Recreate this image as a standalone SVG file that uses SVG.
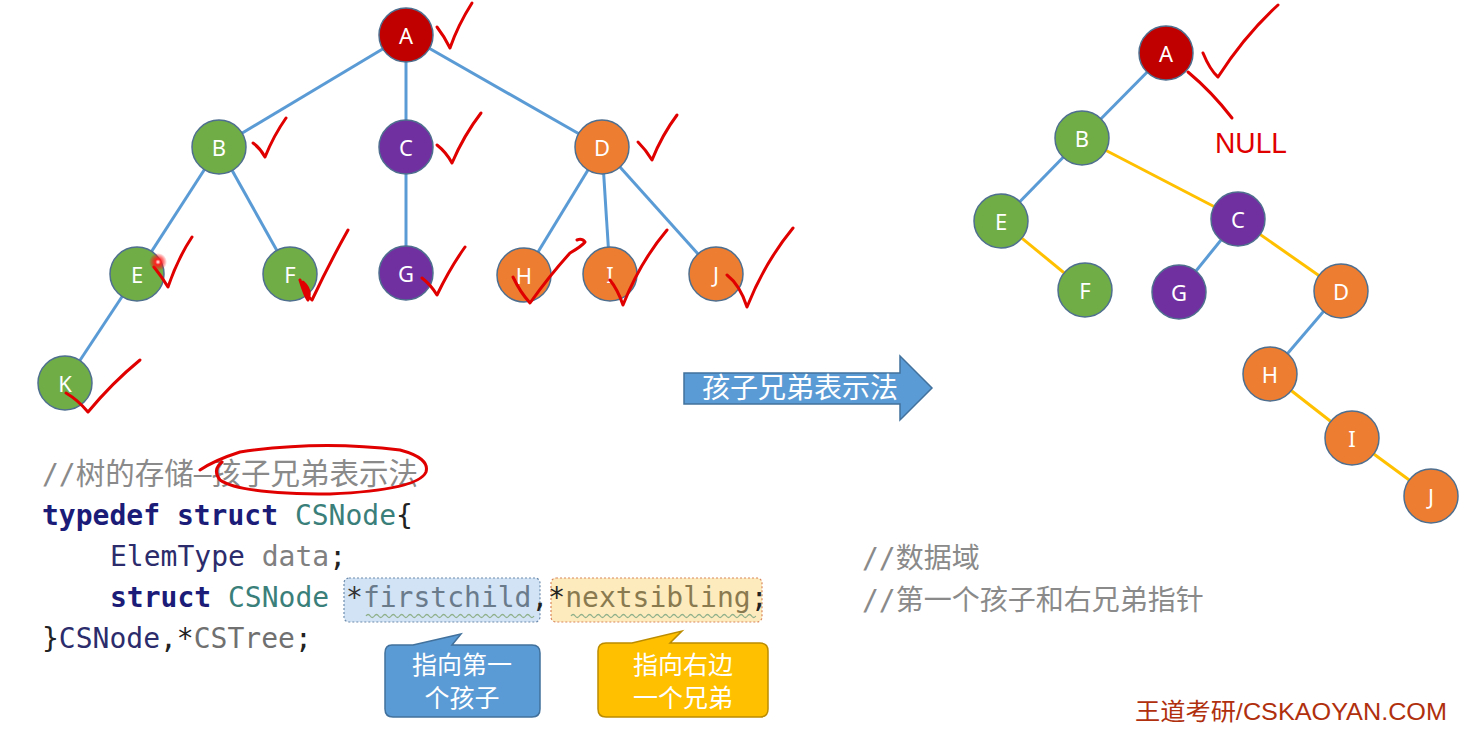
<svg xmlns="http://www.w3.org/2000/svg" width="1475" height="734" viewBox="0 0 1475 734">
<defs>
<style>
.n circle{stroke:#4f6f8f;stroke-width:1.5}
.n text{font-family:"Noto Sans","Liberation Sans",sans-serif;font-size:22px;fill:#fff;text-anchor:middle;dominant-baseline:central}
.red{fill:#C00000}.grn{fill:#70AD47}.pur{fill:#7030A0}.org{fill:#ED7D31}
.lb{stroke:#5B9BD5;stroke-width:3;fill:none}
.ly{stroke:#FFC000;stroke-width:3;fill:none}
.ink{stroke:#E00000;stroke-width:3;fill:none;stroke-linecap:round;stroke-linejoin:round}
.code{font-family:"DejaVu Sans Mono","Noto Sans CJK SC",monospace;font-size:28px}
.cm{font-family:"DejaVu Sans Mono","Noto Sans CJK SC",monospace;font-size:28px;fill:#8a8a8a}
.kw{fill:#1b1b78;font-weight:bold}
.ty{fill:#3b7f7a}
.cj{font-family:"Noto Sans CJK SC",sans-serif;font-size:25px;fill:#fff;text-anchor:middle}
.wave{fill:none;stroke:#8fb08a;stroke-width:1.3}
</style>
<radialGradient id="glow"><stop offset="0" stop-color="#fff"/><stop offset="0.3" stop-color="#ff2020"/><stop offset="1" stop-color="#ff0000" stop-opacity="0"/></radialGradient>
</defs>
<rect width="1475" height="734" fill="#fff"/>

<g id="connectors">
<line class="lb" x1="406" y1="35" x2="219" y2="147"/>
<line class="lb" x1="406" y1="35" x2="406" y2="147"/>
<line class="lb" x1="406" y1="35" x2="602" y2="147"/>
<line class="lb" x1="219" y1="147" x2="137" y2="274"/>
<line class="lb" x1="219" y1="147" x2="290" y2="274"/>
<line class="lb" x1="406" y1="147" x2="406" y2="273"/>
<line class="lb" x1="602" y1="147" x2="524" y2="275"/>
<line class="lb" x1="602" y1="147" x2="610" y2="274"/>
<line class="lb" x1="602" y1="147" x2="716" y2="274"/>
<line class="lb" x1="137" y1="274" x2="65" y2="383"/>
<line class="lb" x1="1166" y1="53" x2="1082" y2="138"/>
<line class="lb" x1="1082" y1="138" x2="1001" y2="221"/>
<line class="lb" x1="1238" y1="219" x2="1179" y2="292"/>
<line class="lb" x1="1341" y1="291" x2="1270" y2="374"/>
<line class="ly" x1="1082" y1="138" x2="1238" y2="219"/>
<line class="ly" x1="1001" y1="221" x2="1085" y2="290"/>
<line class="ly" x1="1238" y1="219" x2="1341" y2="291"/>
<line class="ly" x1="1270" y1="374" x2="1352" y2="438"/>
<line class="ly" x1="1352" y1="438" x2="1431" y2="496"/>
</g>

<g id="L_A" class="n"><circle class="red" cx="406" cy="35" r="27"/><text x="406" y="35">A</text></g>
<g id="L_B" class="n"><circle class="grn" cx="219" cy="147" r="27"/><text x="219" y="147">B</text></g>
<g id="L_C" class="n"><circle class="pur" cx="406" cy="147" r="27"/><text x="406" y="147">C</text></g>
<g id="L_D" class="n"><circle class="org" cx="602" cy="147" r="27"/><text x="602" y="147">D</text></g>
<g id="L_E" class="n"><circle class="grn" cx="137" cy="274" r="27"/><text x="137" y="274">E</text></g>
<g id="L_F" class="n"><circle class="grn" cx="290" cy="274" r="27"/><text x="290" y="274">F</text></g>
<g id="L_G" class="n"><circle class="pur" cx="406" cy="273" r="27"/><text x="406" y="273">G</text></g>
<g id="L_H" class="n"><circle class="org" cx="524" cy="275" r="27"/><text x="524" y="275">H</text></g>
<g id="L_I" class="n"><circle class="org" cx="610" cy="274" r="27"/><text x="610" y="274">I</text></g>
<g id="L_J" class="n"><circle class="org" cx="716" cy="274" r="27"/><text x="716" y="274">J</text></g>
<g id="L_K" class="n"><circle class="grn" cx="65" cy="383" r="27"/><text x="65" y="383">K</text></g>

<g id="R_A" class="n"><circle class="red" cx="1166" cy="53" r="27"/><text x="1166" y="53">A</text></g>
<g id="R_B" class="n"><circle class="grn" cx="1082" cy="138" r="27"/><text x="1082" y="138">B</text></g>
<g id="R_E" class="n"><circle class="grn" cx="1001" cy="221" r="27"/><text x="1001" y="221">E</text></g>
<g id="R_C" class="n"><circle class="pur" cx="1238" cy="219" r="27"/><text x="1238" y="219">C</text></g>
<g id="R_F" class="n"><circle class="grn" cx="1085" cy="290" r="27"/><text x="1085" y="290">F</text></g>
<g id="R_G" class="n"><circle class="pur" cx="1179" cy="292" r="27"/><text x="1179" y="292">G</text></g>
<g id="R_D" class="n"><circle class="org" cx="1341" cy="291" r="27"/><text x="1341" y="291">D</text></g>
<g id="R_H" class="n"><circle class="org" cx="1270" cy="374" r="27"/><text x="1270" y="374">H</text></g>
<g id="R_I" class="n"><circle class="org" cx="1352" cy="438" r="27"/><text x="1352" y="438">I</text></g>
<g id="R_J" class="n"><circle class="org" cx="1431" cy="496" r="27"/><text x="1431" y="496">J</text></g>

<g id="big_arrow">
<polygon points="684,373 900,373 900,356 932,388 900,420 900,404 684,404" fill="#5B9BD5" stroke="#41719C" stroke-width="1.5"/>
<text class="cj" x="800" y="398" style="font-size:28px">孩子兄弟表示法</text>
</g>

<g id="code">
<text class="cm" x="42" y="484">//<tspan style="font-size:29.5px">树的存储—孩子兄弟表示法</tspan></text>
<text class="code" x="42" y="525"><tspan class="kw">typedef</tspan> <tspan class="kw">struct</tspan> <tspan class="ty">CSNode</tspan><tspan fill="#222">{</tspan></text>
<text class="code" x="110" y="566"><tspan fill="#2c2c6c">ElemType</tspan> <tspan fill="#808080">data</tspan><tspan fill="#222">;</tspan></text>
<rect x="344" y="578" width="196" height="44" rx="5" fill="#D2E3F5" stroke="#6d8cad" stroke-width="1.2" stroke-dasharray="2,2"/>
<rect x="551" y="578" width="211" height="44" rx="5" fill="#FDEBBE" stroke="#d9875a" stroke-width="1.2" stroke-dasharray="2,2"/>
<text class="code" x="110" y="607"><tspan class="kw">struct</tspan> <tspan class="ty">CSNode</tspan> <tspan fill="#333">*</tspan><tspan fill="#6a7b8c">firstchild</tspan><tspan fill="#222">,*</tspan><tspan fill="#8a7a50">nextsibling</tspan><tspan fill="#222">;</tspan></text>
<path class="wave" d="M366,616 q2.1,-3 4.2,0 t4.2,0 t4.2,0 t4.2,0 t4.2,0 t4.2,0 t4.2,0 t4.2,0 t4.2,0 t4.2,0 t4.2,0 t4.2,0 t4.2,0 t4.2,0 t4.2,0 t4.2,0 t4.2,0 t4.2,0 t4.2,0 t4.2,0 t4.2,0 t4.2,0 t4.2,0 t4.2,0 t4.2,0 t4.2,0 t4.2,0 t4.2,0 t4.2,0 t4.2,0 t4.2,0 t4.2,0 t4.2,0 t4.2,0 t4.2,0 t4.2,0 t4.2,0 t4.2,0 t4.2,0 t4.2,0"/>
<path class="wave" d="M571,616 q2.1,-3 4.2,0 t4.2,0 t4.2,0 t4.2,0 t4.2,0 t4.2,0 t4.2,0 t4.2,0 t4.2,0 t4.2,0 t4.2,0 t4.2,0 t4.2,0 t4.2,0 t4.2,0 t4.2,0 t4.2,0 t4.2,0 t4.2,0 t4.2,0 t4.2,0 t4.2,0 t4.2,0 t4.2,0 t4.2,0 t4.2,0 t4.2,0 t4.2,0 t4.2,0 t4.2,0 t4.2,0 t4.2,0 t4.2,0 t4.2,0 t4.2,0 t4.2,0 t4.2,0 t4.2,0 t4.2,0 t4.2,0 t4.2,0 t4.2,0 t4.2,0 t4.2,0"/>
<text class="code" x="42" y="648"><tspan fill="#222">}</tspan><tspan fill="#2c2c6c">CSNode</tspan><tspan fill="#222">,*</tspan><tspan fill="#707070">CSTree</tspan><tspan fill="#222">;</tspan></text>
<text class="cm" x="862" y="568">//数据域</text>
<text class="cm" x="862" y="610">//第一个孩子和右兄弟指针</text>
</g>

<g id="callout_child">
<path d="M392,645 L413,645 L461,634 L452,645 L532,645 Q540,645 540,653 L540,709 Q540,717 532,717 L393,717 Q385,717 385,709 L385,653 Q385,645 392,645 Z" fill="#5B9BD5" stroke="#41719C" stroke-width="1.5"/>
<text class="cj" x="462" y="674">指向第一</text>
<text class="cj" x="462" y="707">个孩子</text>
</g>
<g id="callout_sibling">
<path d="M606,643 L632,643 L682,631 L670,643 L760,643 Q768,643 768,651 L768,709 Q768,717 760,717 L606,717 Q598,717 598,709 L598,651 Q598,643 606,643 Z" fill="#FFC000" stroke="#BC8C00" stroke-width="1.5"/>
<text class="cj" x="683" y="674">指向右边</text>
<text class="cj" x="683" y="707">一个兄弟</text>
</g>

<g id="watermark">
<text x="1135" y="720" font-family="'Liberation Sans','Noto Sans CJK SC',sans-serif" font-size="24" fill="#B0300E" textLength="312" lengthAdjust="spacingAndGlyphs">王道考研/CSKAOYAN.COM</text>
</g>

<g id="annotations">
<path class="ink" d="M437,27 Q444,36 450,48 Q458,25 472,3"/>
<path class="ink" d="M253,143 Q260,148 265,157 Q274,135 286,118"/>
<path class="ink" d="M437,145 Q446,152 452,163 Q464,135 481,113"/>
<path class="ink" d="M638,142 Q646,150 652,160 Q662,135 677,115"/>
<path class="ink" d="M154,267 Q162,277 168,287 Q178,258 192,237"/>
<path class="ink" d="M300,280 Q305,296 308,300 Q312,290 303,282 Q310,300 312,300 Q330,262 348,230"/>
<path class="ink" d="M422,278 Q431,285 437,295 Q450,268 465,247"/>
<path class="ink" d="M513,277 Q520,292 530,303 Q550,275 570,253 Q582,246 585,242 Q582,238 577,240"/>
<path class="ink" d="M610,280 Q618,290 623,305 Q640,262 667,230" stroke-width="2.5"/>
<path class="ink" d="M727,275 Q740,285 747,307 Q765,262 793,228" stroke-width="2.5"/>
<path class="ink" d="M66,393 Q78,400 88,412 Q112,383 140,360"/>
<path class="ink" d="M1203,53 Q1210,70 1218,77 Q1245,35 1278,5"/>
<path class="ink" d="M1188,72 Q1212,92 1232,118" stroke-width="2.5"/>
<text x="1215" y="153" font-family="'Liberation Sans Narrow','Liberation Sans',sans-serif" font-size="30" fill="#E00000" textLength="72" lengthAdjust="spacingAndGlyphs">NULL</text>
<path class="ink" d="M200,470 Q215,460 240,452 Q320,440 400,450 Q430,458 426,472 Q418,490 330,494 Q240,494 220,480 Q212,470 222,462" stroke-width="2.5"/>
<circle cx="158" cy="262" r="9" fill="url(#glow)"/>
</g>
</svg>
